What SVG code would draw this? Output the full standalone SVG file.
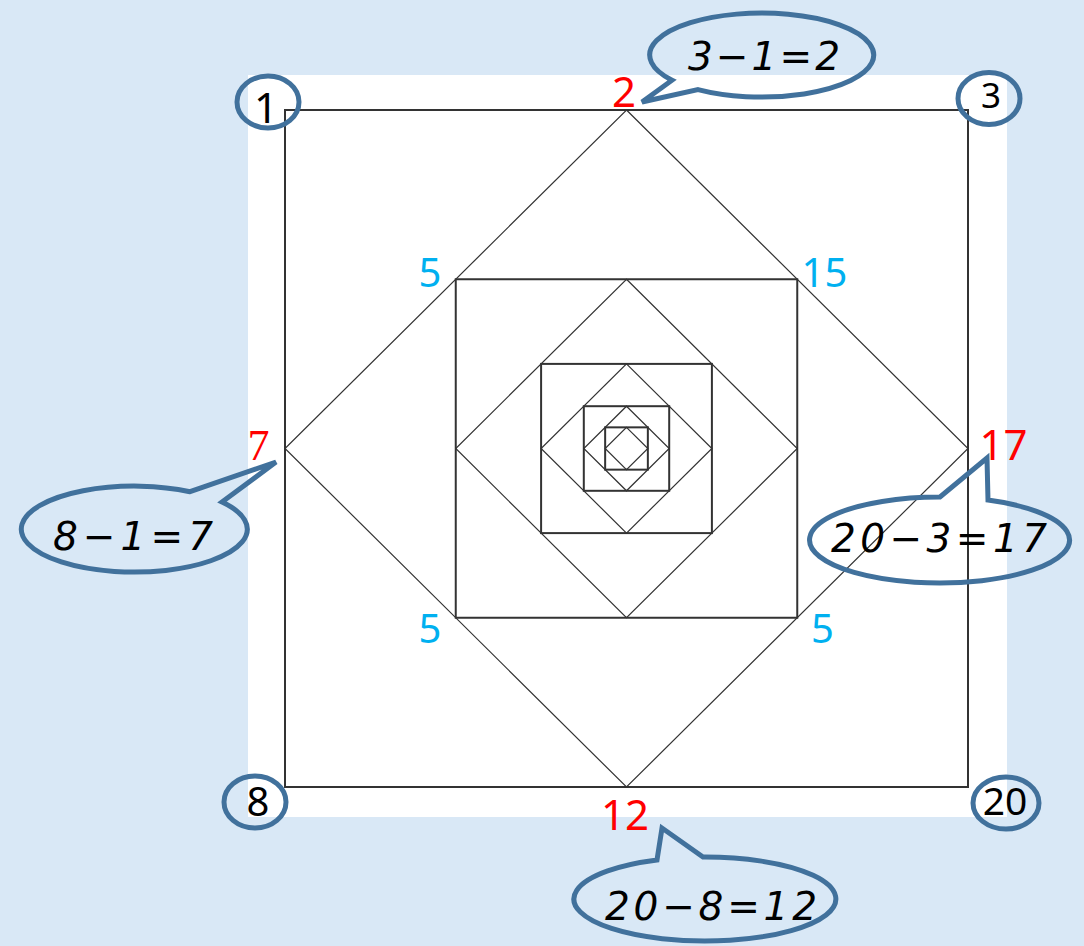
<svg xmlns="http://www.w3.org/2000/svg" width="1084" height="946" viewBox="0 0 1084 946">
<style>
.sq{fill:none;stroke:#333;stroke-width:2}
.dm{fill:none;stroke:#333;stroke-width:1.2}
.ring{fill:none;stroke:#41719C;stroke-width:5}
.bub{fill:none;stroke:#41719C;stroke-width:5;stroke-linejoin:miter}
.num{font-family:"Noto Sans","Liberation Sans",sans-serif;text-anchor:middle}
.blk{fill:#000}
.red{fill:#FF0000}
.cyan{fill:#00B0F0}
.eq{font-family:"DejaVu Sans","Noto Sans",sans-serif;font-style:italic;font-size:39px;fill:#000}
</style>
<rect x="0" y="0" width="1084" height="946" fill="#D9E8F6"/>
<rect x="248" y="75" width="759" height="742" fill="#FFFFFF"/>
<g id="figure">
<rect class="sq" x="285" y="110" width="683" height="677"/>
<polygon class="dm" points="626.5,110 968,448.5 626.5,787 285,448.5"/>
<rect class="sq" x="455.75" y="279.25" width="341.5" height="338.5"/>
<polygon class="dm" points="626.5,279.25 797.25,448.5 626.5,617.75 455.75,448.5"/>
<rect class="sq" x="541.1" y="363.9" width="170.8" height="169.2"/>
<polygon class="dm" points="626.5,363.9 711.9,448.5 626.5,533.1 541.1,448.5"/>
<rect class="sq" x="583.8" y="406.2" width="85.4" height="84.6"/>
<polygon class="dm" points="626.5,406.2 669.2,448.5 626.5,490.8 583.8,448.5"/>
<rect class="sq" x="605.15" y="427.35" width="42.7" height="42.3"/>
<polygon class="dm" points="626.5,427.35 647.85,448.5 626.5,469.65 605.15,448.5"/>
</g>
<g id="corner-1"><ellipse class="ring" cx="268" cy="102" rx="31" ry="26"/><text class="num blk" x="266" y="123" font-size="42">1</text></g>
<g id="corner-3"><ellipse class="ring" cx="989" cy="98.5" rx="31" ry="26"/><text class="num blk" x="991" y="108" font-size="35">3</text></g>
<g id="corner-8"><ellipse class="ring" cx="255" cy="802" rx="31" ry="26"/><text class="num blk" x="258" y="816" font-size="40">8</text></g>
<g id="corner-20"><ellipse class="ring" cx="1006" cy="803" rx="33" ry="26"/><text class="num blk" x="1005" y="815" font-size="39">20</text></g>
<g id="labels-red">
<text class="red" x="258.5" y="460" font-size="44" text-anchor="middle" font-family="Liberation Serif, Times New Roman, serif">7</text>
<text class="num red" x="624" y="107" font-size="42">2</text>
<text class="num red" x="1003.5" y="460" font-size="42">17</text>
<text class="num red" x="625" y="830" font-size="42">12</text>
</g>
<g id="labels-cyan">
<text class="num cyan" x="430" y="287" font-size="40">5</text>
<text class="num cyan" x="824.5" y="287" font-size="40">15</text>
<text class="num cyan" x="430" y="643" font-size="40">5</text>
<text class="num cyan" x="822.5" y="643" font-size="40">5</text>
</g>
<g id="callout-top">
<path class="bub" d="M672,80.2 A112 42 0 1 1 698,89.6 L642,102 Z"/>
<text class="eq" x="688" y="70" textLength="152" lengthAdjust="spacing">3−1=2</text>
</g>
<g id="callout-left">
<path class="bub" d="M190,491.7 A113 43 0 1 0 222,502 L276,462 Z"/>
<text class="eq" x="53" y="550" textLength="160" lengthAdjust="spacing">8−1=7</text>
</g>
<g id="callout-right">
<path class="bub" d="M940,497 A130 43 0 1 0 988,500.1 L987,458 Z"/>
<text class="eq" x="831" y="552" textLength="216" lengthAdjust="spacing">20−3=17</text>
</g>
<g id="callout-bottom">
<path class="bub" d="M657,859.9 A131 42 0 1 0 703,857 L662,828 Z"/>
<text class="eq" x="605" y="920" textLength="212" lengthAdjust="spacing">20−8=12</text>
</g>
</svg>
